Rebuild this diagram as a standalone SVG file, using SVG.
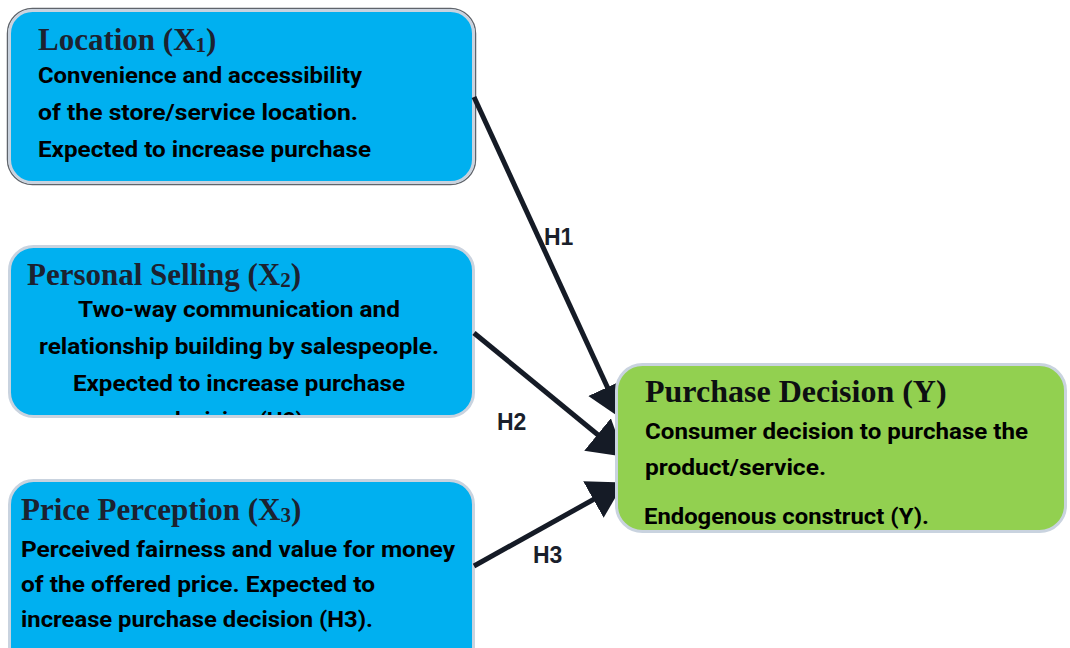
<svg xmlns="http://www.w3.org/2000/svg" width="1070" height="648" viewBox="0 0 1070 648">
  <style>
    .box-blue { fill: #00b0f0; stroke: #c9d3df; stroke-width: 3; }
    .box-green { fill: #92d050; stroke: #c9d3df; stroke-width: 3; }
    .title { font-family: "Liberation Serif", "Times New Roman", serif; font-weight: bold; font-size: 31px; fill: #1c2230; }
    .title-dark { fill: #0d0f12; }
    .sub { font-size: 21px; }
    .body { font-family: Roboto, "Open Sans", "Liberation Sans", sans-serif; font-weight: bold; font-size: 22.5px; fill: #000; }
    .hyp { font-family: "Liberation Sans", Arial, sans-serif; font-weight: bold; font-size: 23px; fill: #1a1f2b; }
    .link { fill: none; stroke: #151b26; stroke-width: 5; }
  </style>
  <defs>
    <marker id="arrow" markerUnits="userSpaceOnUse" markerWidth="36" markerHeight="44" refX="35" refY="21" orient="auto">
      <path d="M0,0 L35,21 L0,42 Z" fill="#151b26"/>
    </marker>
    <clipPath id="clip-x2">
      <rect x="11" y="248" width="461" height="167" rx="22"/>
    </clipPath>
  </defs>

  <rect width="1070" height="648" fill="#ffffff"/>

  <!-- Location (X1) -->
  <g id="node-location">
    <rect x="7.5" y="8.5" width="468" height="176" rx="25" fill="none" stroke="#5f646b" stroke-width="1.5"/>
    <rect class="box-blue" x="9.5" y="10.5" width="464" height="172" rx="23"/>
    <text class="title" x="38" y="50">Location (X<tspan class="sub" dy="2">1</tspan><tspan dy="-2">)</tspan></text>
    <text class="body" x="38" y="83" textLength="324" lengthAdjust="spacingAndGlyphs">Convenience and accessibility</text>
    <text class="body" x="38" y="120" textLength="320" lengthAdjust="spacingAndGlyphs">of the store/service location.</text>
    <text class="body" x="38" y="157" textLength="333" lengthAdjust="spacingAndGlyphs">Expected to increase purchase</text>
  </g>

  <!-- Personal Selling (X2) -->
  <g id="node-personal-selling">
    <rect class="box-blue" x="9.5" y="246.5" width="464" height="170" rx="24"/>
    <text class="title" x="27" y="285">Personal Selling (X<tspan class="sub" dy="2">2</tspan><tspan dy="-2">)</tspan></text>
    <g clip-path="url(#clip-x2)">
      <text class="body" x="239" y="317" text-anchor="middle" textLength="322" lengthAdjust="spacingAndGlyphs">Two-way communication and</text>
      <text class="body" x="239" y="354" text-anchor="middle" textLength="400" lengthAdjust="spacingAndGlyphs">relationship building by salespeople.</text>
      <text class="body" x="239" y="391" text-anchor="middle" textLength="332" lengthAdjust="spacingAndGlyphs">Expected to increase purchase</text>
      <text class="body" x="239" y="428" text-anchor="middle">decision (H2).</text>
    </g>
  </g>

  <!-- Price Perception (X3) -->
  <g id="node-price-perception">
    <rect class="box-blue" x="9.5" y="480.5" width="464" height="200" rx="24"/>
    <text class="title" x="21" y="520">Price Perception (X<tspan class="sub" dy="2">3</tspan><tspan dy="-2">)</tspan></text>
    <text class="body" x="21" y="557" textLength="434" lengthAdjust="spacingAndGlyphs">Perceived fairness and value for money</text>
    <text class="body" x="21" y="592" textLength="354" lengthAdjust="spacingAndGlyphs">of the offered price. Expected to</text>
    <text class="body" x="21" y="627" textLength="352" lengthAdjust="spacingAndGlyphs">increase purchase decision (H3).</text>
  </g>

  <!-- Hypothesis paths -->
  <g id="connectors">
    <line class="link" x1="474" y1="97" x2="622" y2="419" marker-end="url(#arrow)"/>
    <line class="link" x1="474" y1="333" x2="624.6" y2="456.7" marker-end="url(#arrow)"/>
    <line class="link" x1="474" y1="566" x2="624" y2="482.5" marker-end="url(#arrow)"/>
    <text class="hyp" x="544" y="245">H1</text>
    <text class="hyp" x="497" y="430">H2</text>
    <text class="hyp" x="533" y="563">H3</text>
  </g>

  <!-- Purchase Decision (Y) -->
  <g id="node-purchase-decision">
    <rect class="box-green" x="616.5" y="364.5" width="449" height="167" rx="26"/>
    <text class="title title-dark" x="645" y="402" style="font-size:32px">Purchase Decision (Y)</text>
    <text class="body" x="645" y="439" textLength="383" lengthAdjust="spacingAndGlyphs">Consumer decision to purchase the</text>
    <text class="body" x="645" y="475" textLength="181" lengthAdjust="spacingAndGlyphs">product/service.</text>
    <text class="body" x="644" y="524" textLength="285" lengthAdjust="spacingAndGlyphs">Endogenous construct (Y).</text>
  </g>
</svg>
